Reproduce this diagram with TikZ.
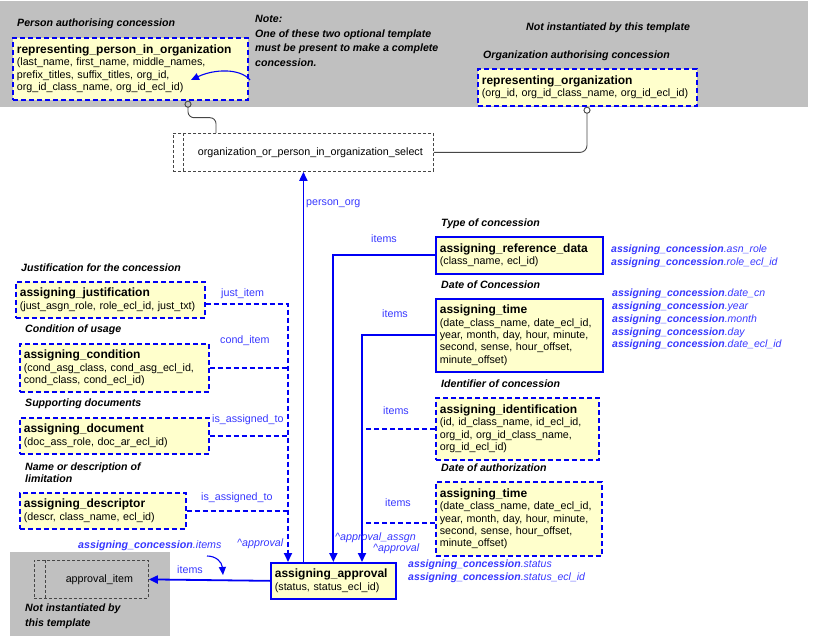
\documentclass[tikz,border=0pt]{standalone}
\usepackage{fontspec}
\setmainfont{Liberation Sans}
\usepackage{xcolor}
\usepackage{tikz}
\usetikzlibrary{arrows.meta}

\definecolor{entblue}{RGB}{0,0,245}
\definecolor{relblue}{RGB}{55,55,255}
\definecolor{entfill}{RGB}{255,255,204}
\definecolor{bandgray}{RGB}{192,192,192}
\definecolor{selgray}{RGB}{70,70,70}

\newcommand{\fieldfont}{\fontsize{10.7}{12.4}\selectfont}
\newcommand{\enttitle}[1]{{\fontsize{12}{13}\selectfont\bfseries #1}}
\newcommand{\capfont}{\fontsize{10.6}{12.6}\selectfont\bfseries\itshape}

\begin{document}
\begin{tikzpicture}[x=1pt,y=-1pt,
    entity/.style={draw=entblue,fill=entfill,line width=1.7pt,anchor=north west,
      align=left,inner xsep=4pt,inner ysep=2pt,font=\fieldfont},
    optentity/.style={entity,dash pattern=on 5pt off 3pt},
    selectbox/.style={draw=selgray,line width=0.8pt,dash pattern=on 3pt off 2pt,
      anchor=north west,font=\fieldfont},
    selline/.style={draw=selgray,line width=0.9pt},
    link/.style={draw=entblue,line width=1.8pt},
    optlink/.style={link,dash pattern=on 5pt off 3pt},
    arrowend/.style={-{Triangle[length=9pt,width=8pt]}},
    thinarrow/.style={draw=entblue,line width=1.1pt,-{Triangle[length=8pt,width=7pt]}},
    rellabel/.style={text=relblue,font=\fieldfont,anchor=west,inner sep=0pt},
    attrlabel/.style={rellabel,align=left,font=\fontsize{10.5}{12.8}\selectfont\itshape},
    heading/.style={font=\capfont,anchor=west,inner sep=0pt,align=left}]

  \useasboundingbox (0,0) rectangle (814,636);
  \fill[bandgray] (0,1) rectangle (808,107);
  \fill[bandgray] (10,552) rectangle (170,636);

  % top band
  \node[heading] (perscap) at (17,24) {Person authorising concession};
  \node[optentity,minimum height=62pt,text width=227pt] (pers) at (12,37)
    {\enttitle{representing\_person\_in\_organization}\\
     (last\_name, first\_name, middle\_names,\\
     prefix\_titles, suffix\_titles, org\_id,\\
     org\_id\_class\_name, org\_id\_ecl\_id)};
  \node[heading,font={\fontsize{10.6}{14.4}\selectfont\bfseries\itshape}] (note) at (255,41)
    {Note:\\One of these two optional template\\must be present to make a complete\\concession.};
  \node[heading] (notinst) at (526,28) {Not instantiated by this template};
  \node[heading] (orgcap) at (483,56) {Organization authorising concession};
  \node[optentity,minimum height=37pt,text width=211pt] (org) at (477,68)
    {\enttitle{representing\_organization}\\
     (org\_id, org\_id\_class\_name, org\_id\_ecl\_id)};

  \coordinate (notestart) at (250,80);
  \coordinate (noteend) at (191,80);
  \draw[thinarrow] (notestart) .. controls (240,68) and (214,69) .. (noteend);

  % select
  \node[selectbox,minimum width=260pt,minimum height=38pt] (sel) at (173,133)
    {\hspace*{14pt}organization\_or\_person\_in\_organization\_select};
  \draw[selline,dash pattern=on 3pt off 2pt] ([xshift=10pt]sel.north west) -- ([xshift=10pt]sel.south west);
  \draw[selline,rounded corners=6pt,{Circle[open,length=7pt,width=7pt]}-]
    ([xshift=176pt]pers.south west) -- ++(0,17) -| ([xshift=43pt]sel.north west);
  \draw[selline,rounded corners=7pt,{Circle[open,length=7pt,width=7pt]}-]
    ([xshift=110pt]org.south west) |- (sel.east);

  % approval
  \node[entity,minimum height=36pt,text width=117pt] (apv) at (270,562)
    {\enttitle{assigning\_approval}\\(status, status\_ecl\_id)};
  \draw[link,arrowend] (apv.north -| sel.south) -- (sel.south);
  \node[rellabel] (porglbl) at (306,204) {person\_org};

  % right column
  \node[heading] (refcap) at (441,224) {Type of concession};
  \node[entity,minimum height=37pt,text width=159pt] (ref) at (435,236)
    {\enttitle{assigning\_reference\_data}\\(class\_name, ecl\_id)};
  \node[heading] (time1cap) at (441,285) {Date of Concession};
  \node[entity,minimum height=73pt,text width=159pt] (time1) at (435,298)
    {\enttitle{assigning\_time}\\
     (date\_class\_name, date\_ecl\_id,\\
     year, month, day, hour, minute,\\
     second, sense, hour\_offset,\\
     minute\_offset)};
  \node[heading] (identcap) at (441,384) {Identifier of concession};
  \node[optentity,minimum height=62pt,text width=155pt] (ident) at (435,397)
    {\enttitle{assigning\_identification}\\
     (id, id\_class\_name, id\_ecl\_id,\\
     org\_id, org\_id\_class\_name,\\
     org\_id\_ecl\_id)};
  \node[heading] (time2cap) at (441,468) {Date of authorization};
  \node[optentity,minimum height=74pt,text width=158pt] (time2) at (435,481)
    {\enttitle{assigning\_time}\\
     (date\_class\_name, date\_ecl\_id,\\
     year, month, day, hour, minute,\\
     second, sense, hour\_offset,\\
     minute\_offset)};

  \node[attrlabel] (refattr) at (611,256.5)
    {\textbf{assigning\_concession}.asn\_role\\\textbf{assigning\_concession}.role\_ecl\_id};
  \node[attrlabel] (time1attr) at (612,319.5)
    {\textbf{assigning\_concession}.date\_cn\\\textbf{assigning\_concession}.year\\
     \textbf{assigning\_concession}.month\\\textbf{assigning\_concession}.day\\
     \textbf{assigning\_concession}.date\_ecl\_id};
  \node[attrlabel] (apvattr) at (408,571.5)
    {\textbf{assigning\_concession}.status\\\textbf{assigning\_concession}.status\_ecl\_id};

  \coordinate (rightin) at ([xshift=92pt]apv.north west);
  \draw[link,arrowend] (ref.west) -| (apv.north);
  \draw[link,arrowend] (time1.west) -| (rightin);
  \draw[optlink] (ident.west) -- (ident.west -| rightin);
  \draw[optlink] ([yshift=-4pt]time2.west) -- ([yshift=-4pt]time2.west -| rightin);
  \node[rellabel] (refitems) at (371,239) {items};
  \node[rellabel] (time1items) at (382,314) {items};
  \node[rellabel] (identitems) at (383,411) {items};
  \node[rellabel] (time2items) at (385,503) {items};
  \node[rellabel,font=\fieldfont\itshape] (assgnlbl) at (335,538) {\^{}approval\_assgn};
  \node[rellabel,font=\fieldfont\itshape] (apprlbl2) at (373,549) {\^{}approval};

  % left column
  \node[heading] (justcap) at (21,268) {Justification for the concession};
  \node[optentity,minimum height=36pt,text width=181pt] (just) at (15,281)
    {\enttitle{assigning\_justification}\\(just\_asgn\_role, role\_ecl\_id, just\_txt)};
  \node[heading] (condcap) at (25,330) {Condition of usage};
  \node[optentity,minimum height=48pt,text width=181pt] (cond) at (19,343)
    {\enttitle{assigning\_condition}\\(cond\_asg\_class, cond\_asg\_ecl\_id,\\cond\_class, cond\_ecl\_id)};
  \node[heading] (doccap) at (25,404) {Supporting documents};
  \node[optentity,minimum height=36pt,text width=181pt] (doc) at (19,417)
    {\enttitle{assigning\_document}\\(doc\_ass\_role, doc\_ar\_ecl\_id)};
  \node[heading,font={\fontsize{10.6}{12.4}\selectfont\bfseries\itshape}] (descrcap) at (25,473)
    {Name or description of\\limitation};
  \node[optentity,minimum height=36pt,text width=158pt] (descr) at (19,492)
    {\enttitle{assigning\_descriptor}\\(descr, class\_name, ecl\_id)};

  \coordinate (leftin) at ([xshift=18pt]apv.north west);
  \draw[optlink,arrowend] ([yshift=-4pt]just.east) -| (leftin);
  \draw[optlink] (cond.east) -- (cond.east -| leftin);
  \draw[optlink] (doc.east) -- (doc.east -| leftin);
  \draw[optlink] (descr.east) -- (descr.east -| leftin);
  \node[rellabel] (justlbl) at (221,294) {just\_item};
  \node[rellabel] (condlbl) at (220,341) {cond\_item};
  \node[rellabel] (doclbl) at (212,420) {is\_assigned\_to};
  \node[rellabel] (descrlbl) at (201,498) {is\_assigned\_to};
  \node[rellabel,font=\fieldfont\itshape] (apprlbl1) at (237,544) {\^{}approval};

  % approval_item
  \node[selectbox,minimum width=114pt,minimum height=38pt] (item) at (34,560)
    {\hspace*{16pt}approval\_item};
  \draw[selline,dash pattern=on 3pt off 2pt] ([xshift=11pt]item.north west) -- ([xshift=11pt]item.south west);
  \draw[link,arrowend] (apv.west) -- (item.east);
  \node[rellabel] (itemlbl) at (177,570) {items};
  \node[rellabel,font=\fieldfont\itshape] (itemattr) at (78,546) {\textbf{assigning\_concession}.items};
  \coordinate (itemsfrom) at (207,556);
  \coordinate (itemsto) at (223,575);
  \draw[thinarrow] (itemsfrom) .. controls (216,556) and (222,562) .. (itemsto);
  \node[heading,font={\fontsize{10.6}{15}\selectfont\bfseries\itshape}] (notinst2) at (25,616.5)
    {Not instantiated by\\this template};
\end{tikzpicture}
\end{document}
